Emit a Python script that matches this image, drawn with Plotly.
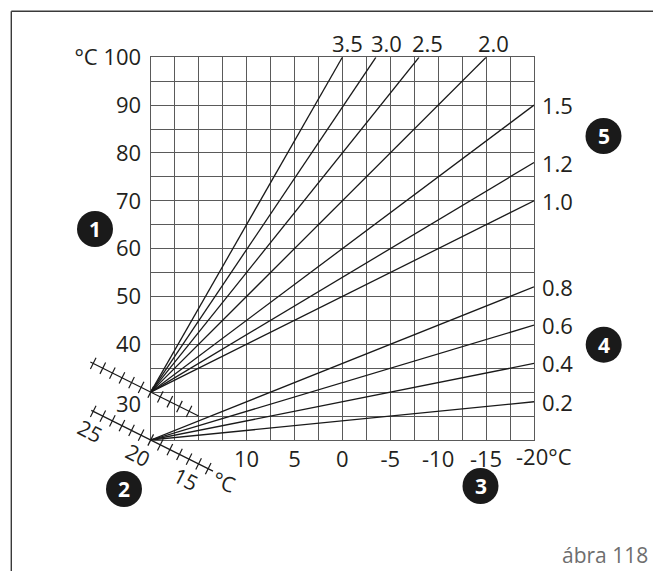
import math
import plotly.graph_objects as go

# ---------------- data ----------------
# heating curves of the upper fan: start at outdoor 20 °C / flow 30 °C
upper_labels = ["1.0", "1.2", "1.5", "2.0", "2.5", "3.0", "3.5"]
upper_start_out = [20, 20, 20, 20, 20, 20, 20]
upper_start_flow = [30, 30, 30, 30, 30, 30, 30]
upper_end_out = [-20, -20, -20, -15, -8, -3.5, 0]
upper_end_flow = [70, 78, 90, 100, 100, 100, 100]

# heating curves of the lower fan: start at outdoor 20 °C / flow 20 °C
lower_labels = ["0.2", "0.4", "0.6", "0.8"]
lower_start_out = [20, 20, 20, 20]
lower_start_flow = [20, 20, 20, 20]
lower_end_out = [-20, -20, -20, -20]
lower_end_flow = [28, 36, 44, 52]

# axis ticks
x_ticks = [20, 17.5, 15, 12.5, 10, 7.5, 5, 2.5, 0, -2.5, -5, -7.5, -10, -12.5, -15, -17.5, -20]
x_ticktext = ["", "", "", "", "10", "", "5", "", "0", "", "-5", "", "-10", "", "-15", "", ""]
y_ticks = [20, 25, 30, 35, 40, 45, 50, 55, 60, 65, 70, 75, 80, 85, 90, 95, 100]
y_ticktext = ["", "", "", "", "40", "", "50", "", "60", "", "70", "", "80", "", "90", "", "°C 100"]

# room-temperature scales (diagonal): tick values
lower_room_ticks = [14, 15, 16, 17, 18, 19, 20, 21, 22, 23, 24, 25, 26]
lower_room_ends = [13.5, 26.2]
upper_room_ticks = [16, 17, 18, 19, 20, 21, 22, 23, 24, 25, 26]
upper_room_ends = [15, 26.3]
upper_room_offset = 10
room_labels = ["25", "20", "15"]
room_label_vals = [25, 20, 15]

callouts = ["1", "2", "3", "4", "5"]

# ---------------- layout geometry (pixels of the target picture) ----------------
W, H = 661, 571
OFF = 8                       # page body margin of the html page
L, R, T, B = 150.7, 534.0, 57.3, 440.0
X0, X1 = 20, -20
Y0, Y1 = 20, 100
ppx = (R - L) / (X0 - X1)
ppy = (B - T) / (Y1 - Y0)


def px(x):
    return (x - OFF) / W


def py(y):
    return 1 - (y - OFF) / H


FONT = "Open Sans"
FS = 22
TXT = "#231f20"
GRID = "#5a5a5a"
LINE = "#1a1a1a"

fig = go.Figure()

for i in range(len(upper_labels)):
    fig.add_trace(go.Scatter(
        x=[upper_start_out[i], upper_end_out[i]],
        y=[upper_start_flow[i], upper_end_flow[i]],
        mode="lines", line=dict(color=LINE, width=1.3),
        hoverinfo="skip", showlegend=False, xaxis="x", yaxis="y"))
for i in range(len(lower_labels)):
    fig.add_trace(go.Scatter(
        x=[lower_start_out[i], lower_end_out[i]],
        y=[lower_start_flow[i], lower_end_flow[i]],
        mode="lines", line=dict(color=LINE, width=1.3),
        hoverinfo="skip", showlegend=False, xaxis="x", yaxis="y"))

# diagonal room-temperature scales on the overlay axes
ang = math.degrees(math.atan2(ppy, ppx))
tick_marker = dict(symbol="line-ns", size=9, angle=ang, line=dict(color=LINE, width=1.2))
fig.add_trace(go.Scatter(x=lower_room_ends, y=lower_room_ends, mode="lines",
                         line=dict(color=LINE, width=1.2), hoverinfo="skip",
                         showlegend=False, xaxis="x2", yaxis="y2"))
fig.add_trace(go.Scatter(x=lower_room_ticks, y=lower_room_ticks, mode="markers",
                         marker=tick_marker, hoverinfo="skip", showlegend=False,
                         xaxis="x2", yaxis="y2"))
fig.add_trace(go.Scatter(x=upper_room_ends, y=[v + upper_room_offset for v in upper_room_ends],
                         mode="lines", line=dict(color=LINE, width=1.2), hoverinfo="skip",
                         showlegend=False, xaxis="x2", yaxis="y2"))
fig.add_trace(go.Scatter(x=upper_room_ticks, y=[v + upper_room_offset for v in upper_room_ticks],
                         mode="markers", marker=tick_marker, hoverinfo="skip",
                         showlegend=False, xaxis="x2", yaxis="y2"))

ann = []
# slope labels
top_label_shift = {"2.0": 7, "2.5": 8, "3.0": 11, "3.5": 5}
for i, lab in enumerate(upper_labels):
    if upper_end_flow[i] >= Y1:
        ann.append(dict(x=upper_end_out[i], y=upper_end_flow[i], xref="x", yref="y",
                        text=lab, showarrow=False, xanchor="center", yanchor="bottom",
                        xshift=top_label_shift[lab], yshift=-3,
                        font=dict(family=FONT, size=FS, color=TXT)))
    else:
        ann.append(dict(x=upper_end_out[i], y=upper_end_flow[i], xref="x", yref="y",
                        text=lab, showarrow=False, xanchor="left", yanchor="middle",
                        xshift=6, font=dict(family=FONT, size=FS, color=TXT)))
for i, lab in enumerate(lower_labels):
    ann.append(dict(x=lower_end_out[i], y=lower_end_flow[i], xref="x", yref="y",
                    text=lab, showarrow=False, xanchor="left", yanchor="middle",
                    xshift=6, font=dict(family=FONT, size=FS, color=TXT)))
# "30" label (moved down below the scale) and "-20°C" at the right end
ann.append(dict(x=X0, y=30, xref="x", yref="y", text="30", showarrow=False,
                xanchor="right", yanchor="middle", xshift=-8, yshift=-11,
                font=dict(family=FONT, size=FS, color=TXT)))
ann.append(dict(x=X1, y=Y0, xref="x", yref="y", text="-20°C", showarrow=False,
                xanchor="left", yanchor="top", xshift=-20, yshift=1,
                font=dict(family=FONT, size=FS, color=TXT)))
# room scale labels
for lab, v in zip(room_labels, room_label_vals):
    ann.append(dict(x=v, y=v, xref="x2", yref="y2", text=lab, showarrow=False,
                    xanchor="center", yanchor="middle", xshift=-13, yshift=-15,
                    textangle=27, font=dict(family=FONT, size=21, color=TXT)))
ann.append(dict(x=12.3, y=12.3, xref="x2", yref="y2", text="°C", showarrow=False,
                xanchor="center", yanchor="middle", xshift=0, yshift=-5,
                textangle=20, font=dict(family=FONT, size=21, color=TXT)))

# callout circles
call_pos = [(95, 229), (124, 489), (480.5, 486), (603.7, 344.7), (603.5, 136)]
shapes = []
rad = 18
for lab, (cx, cy) in zip(callouts, call_pos):
    shapes.append(dict(type="circle", xref="paper", yref="paper",
                       x0=px(cx - rad), x1=px(cx + rad),
                       y0=py(cy + rad), y1=py(cy - rad),
                       fillcolor="#1a1a1a", line=dict(width=0)))
    ann.append(dict(x=px(cx), y=py(cy), xref="paper", yref="paper", text="<b>%s</b>" % lab,
                    showarrow=False, xanchor="center", yanchor="middle",
                    font=dict(family=FONT, size=21, color="white")))

# outer frame (top and left visible)
shapes.append(dict(type="line", xref="paper", yref="paper", x0=px(11.3), y0=py(11.3),
                   x1=1.02, y1=py(11.3), line=dict(color="#3a3a3a", width=1.4)))
shapes.append(dict(type="line", xref="paper", yref="paper", x0=px(11.3), y0=py(11.3),
                   x1=px(11.3), y1=-0.02, line=dict(color="#3a3a3a", width=1.4)))

ann.append(dict(x=px(650), y=py(555), xref="paper", yref="paper", text="ábra 118",
                showarrow=False, xanchor="right", yanchor="middle",
                font=dict(family=FONT, size=21, color="#6e6e6e")))

x2_range = [X0 + (L - OFF) / ppx, X0 - (OFF + W - L) / ppx]
y2_range = [Y0 - (OFF + H - B) / ppy, Y0 + (B - OFF) / ppy]

fig.update_layout(
    width=W, height=H,
    margin=dict(l=0, r=0, t=0, b=0, pad=0, autoexpand=False),
    paper_bgcolor="white", plot_bgcolor="rgba(0,0,0,0)",
    showlegend=False,
    xaxis=dict(domain=[px(L), px(R)], range=[X0, X1], tickmode="array",
               tickvals=x_ticks, ticktext=x_ticktext, showgrid=True, gridcolor=GRID,
               gridwidth=1.3, zeroline=False, showline=True, mirror=True, linecolor=GRID,
               linewidth=1.3, ticks="", ticklabelstandoff=-1, automargin=False,
               tickfont=dict(family=FONT, size=FS, color=TXT), anchor="y", fixedrange=True),
    yaxis=dict(domain=[py(B), py(T)], range=[Y0, Y1], tickmode="array",
               tickvals=y_ticks, ticktext=y_ticktext, showgrid=True, gridcolor=GRID,
               gridwidth=1.3, zeroline=False, showline=True, mirror=True, linecolor=GRID,
               linewidth=1.3, ticks="", ticklabelstandoff=4, automargin=False,
               tickfont=dict(family=FONT, size=FS, color=TXT), anchor="x", fixedrange=True),
    xaxis2=dict(domain=[0, 1], range=x2_range, visible=False, anchor="y2", fixedrange=True),
    yaxis2=dict(domain=[0, 1], range=y2_range, visible=False, anchor="x2", fixedrange=True),
    annotations=ann, shapes=shapes,
)

fig.write_html("out.html")
